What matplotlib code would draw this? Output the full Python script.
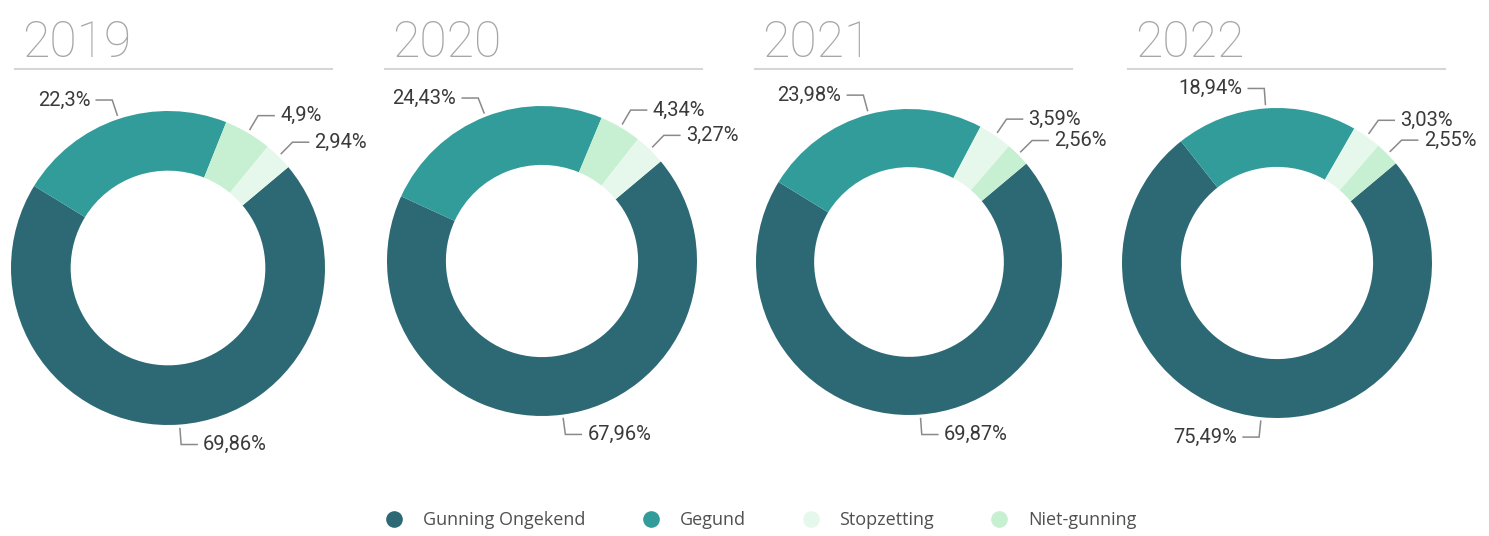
import numpy as np
import matplotlib
matplotlib.use('Agg')
import matplotlib.pyplot as plt
from matplotlib.lines import Line2D


# data (percentages per year)
years            = ['2019', '2020', '2021', '2022']
categories       = ['Gunning Ongekend', 'Gegund', 'Stopzetting', 'Niet-gunning']
gunning_ongekend = [69.86, 67.96, 69.87, 75.49]
gegund           = [22.3, 24.43, 23.98, 18.94]
stopzetting      = [2.94, 3.27, 3.59, 3.03]
niet_gunning     = [4.9, 4.34, 2.56, 2.55]

colors = {'Gunning Ongekend': '#2D6974',
          'Gegund':           '#329C9B',
          'Stopzetting':      '#E6F8EB',
          'Niet-gunning':     '#C7EFD1'}

W, H = 1489, 536

# layout in pixels (y measured from the top)
centers = [(168, 268), (542, 261), (909, 262), (1277, 263)]
radii   = [157, 155, 153, 155]
title_x = [22, 392, 762, 1135]
rules   = [(15, 332), (385, 702), (755, 1072), (1128, 1445)]

fig = plt.figure(figsize=(W / 100, H / 100), dpi=100)
ax = fig.add_axes([0, 0, 1, 1])

label_font = dict(family=['Roboto', 'DejaVu Sans'], size=14.5, color='#3A3A3A')

for i, year in enumerate(years):

    vals = [gunning_ongekend[i], gegund[i], stopzetting[i], niet_gunning[i]]
    order = sorted(range(4), key=lambda k: -vals[k])
    v = [vals[k] for k in order]
    c = [colors[categories[k]] for k in order]

    cx, cy = centers[i][0], H - centers[i][1]
    R = radii[i]

    wedges, _ = ax.pie(v, colors=c, startangle=40, counterclock=False,
                       radius=R, center=(cx, cy),
                       wedgeprops=dict(width=0.38 * R, linewidth=0))

    for w, val in zip(wedges, v):
        mid = np.deg2rad((w.theta1 + w.theta2) / 2)
        ca, sa = np.cos(mid), np.sin(mid)
        x0, y0 = cx + (R + 4) * ca, cy + (R + 4) * sa
        x1, y1 = cx + (R + 20) * ca, cy + (R + 20) * sa
        d = 1 if ca >= 0 else -1
        x2 = x1 + d * 16
        ax.plot([x0, x1, x2], [y0, y1, y1], color='#8A8A8A', lw=1.1,
                solid_joinstyle='miter')
        txt = (('%.2f' % val).rstrip('0').rstrip('.')).replace('.', ',') + '%'
        ax.text(x2 + d * 6, y1, txt, ha='left' if d > 0 else 'right',
                va='center', **label_font)

    # year title and rule
    ax.text(title_x[i], H - 57, year, ha='left', va='baseline',
            family=['Roboto', 'DejaVu Sans'], weight='light', size=36,
            color='#A6A6A6')
    ax.plot(rules[i], [H - 69, H - 69], color='#D6D6D6', lw=1.5)

ax.set_xlim(0, W)
ax.set_ylim(0, H)
ax.set_aspect('auto')
ax.axis('off')
ax.set_position([0, 0, 1, 1])

handles = [Line2D([], [], marker='o', ls='', markersize=12,
                  markerfacecolor=colors[k], markeredgewidth=0) for k in categories]

fig.legend(handles, categories, loc='center', bbox_to_anchor=(0.508, 0.03),
           ncol=4, frameon=False, columnspacing=2.6, handletextpad=0.6,
           prop=dict(family=['Open Sans', 'DejaVu Sans'], size=13),
           labelcolor='#505050')

fig.savefig('out.png', dpi=100)
